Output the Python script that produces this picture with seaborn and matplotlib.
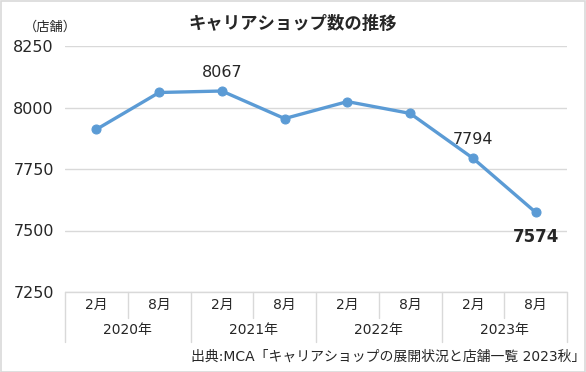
import matplotlib
matplotlib.use("Agg")
import matplotlib.pyplot as plt
import matplotlib.transforms as mtransforms
import seaborn as sns
import pandas as pd

################################################
#                 Data
################################################
months = ["2月", "8月", "2月", "8月", "2月", "8月", "2月", "8月"]
years = ["2020年", "2021年", "2022年", "2023年"]
shops = [7911, 8061, 8067, 7955, 8024, 7976, 7794, 7574]
yticks = [7250, 7500, 7750, 8000, 8250]
labelled = {2: "8067", 6: "7794"}

title = "キャリアショップ数の推移"
unit = "（店舗）"
source = "出典:MCA「キャリアショップの展開状況と店舗一覧 2023秋」"

line_color = "#5B9BD5"
grid_color = "#D9D9D9"

df = pd.DataFrame({"pos": range(len(shops)), "shops": shops})

################################################
#                 Figure
################################################
sns.set_style("white")
plt.rcParams["font.family"] = ["Noto Sans CJK JP", "DejaVu Sans"]
mixed = ["DejaVu Sans", "Noto Sans CJK JP"]  # latin digits wide, kanji from Noto

W, H = 586, 372
fig = plt.figure(figsize=(W / 100, H / 100), dpi=100)
ax = fig.add_axes([65 / W, 1 - 292 / H, (567 - 65) / W, (292 - 46) / H])

sns.lineplot(data=df, x="pos", y="shops", ax=ax, color=line_color,
             linewidth=2.4, marker="o", markersize=6.5,
             markeredgecolor=line_color, legend=False)

ax.set_xlim(-0.5, len(shops) - 0.5)
ax.set_ylim(yticks[0], yticks[-1])
ax.set_yticks(yticks)
ax.set_yticklabels([str(v) for v in yticks], fontsize=11.5, family="DejaVu Sans")
ax.tick_params(axis="y", length=0, pad=8)
ax.set_xticks([])
ax.set_xlabel("")
ax.set_ylabel("")
ax.yaxis.grid(True, color=grid_color, linewidth=1)
for s in ax.spines.values():
    s.set_visible(False)

# category table under the plot
trans = mtransforms.blended_transform_factory(ax.transData, ax.transAxes)
full = -50 / 246
short = -26 / 246
ax.plot([-0.5, len(shops) - 0.5], [0, 0], transform=trans, color=grid_color,
        linewidth=1, clip_on=False)
for i in range(len(shops) + 1):
    x = i - 0.5
    bottom = full if i % 2 == 0 else short
    ax.plot([x, x], [0, bottom], transform=trans, color=grid_color,
            linewidth=1, clip_on=False)
for i, m in enumerate(months):
    ax.text(i, -13 / 246, m, transform=trans, ha="center", va="center",
            fontsize=10, family=mixed)
for j, yr in enumerate(years):
    ax.text(2 * j + 0.5, -38 / 246, yr, transform=trans, ha="center",
            va="center", fontsize=10, family=mixed)

# value labels
for i, txt in labelled.items():
    ax.annotate(txt, (i, shops[i]), xytext=(0, 8), textcoords="offset points",
                ha="center", va="bottom", fontsize=11.5, family="DejaVu Sans")
ax.annotate(str(shops[-1]), (len(shops) - 1, shops[-1]), xytext=(0, -11),
            textcoords="offset points", ha="center", va="top", fontsize=12,
            fontweight="bold", family="DejaVu Sans")

fig.text(293 / W, 1 - 24 / H, title, ha="center", va="center", fontsize=12.5,
         fontweight="bold")
fig.text(50 / W, 1 - 27 / H, unit, ha="center", va="center", fontsize=9.5)
fig.text(585 / W, 1 - 357 / H, source, ha="right", va="center", fontsize=10,
         family=mixed)

fig.patches.append(plt.Rectangle((0.5 / W, 0.5 / H), 1 - 1.5 / W, 1 - 1.5 / H,
                                 transform=fig.transFigure, fill=False,
                                 edgecolor=grid_color, linewidth=1.2))

fig.savefig("out.png", dpi=100)
